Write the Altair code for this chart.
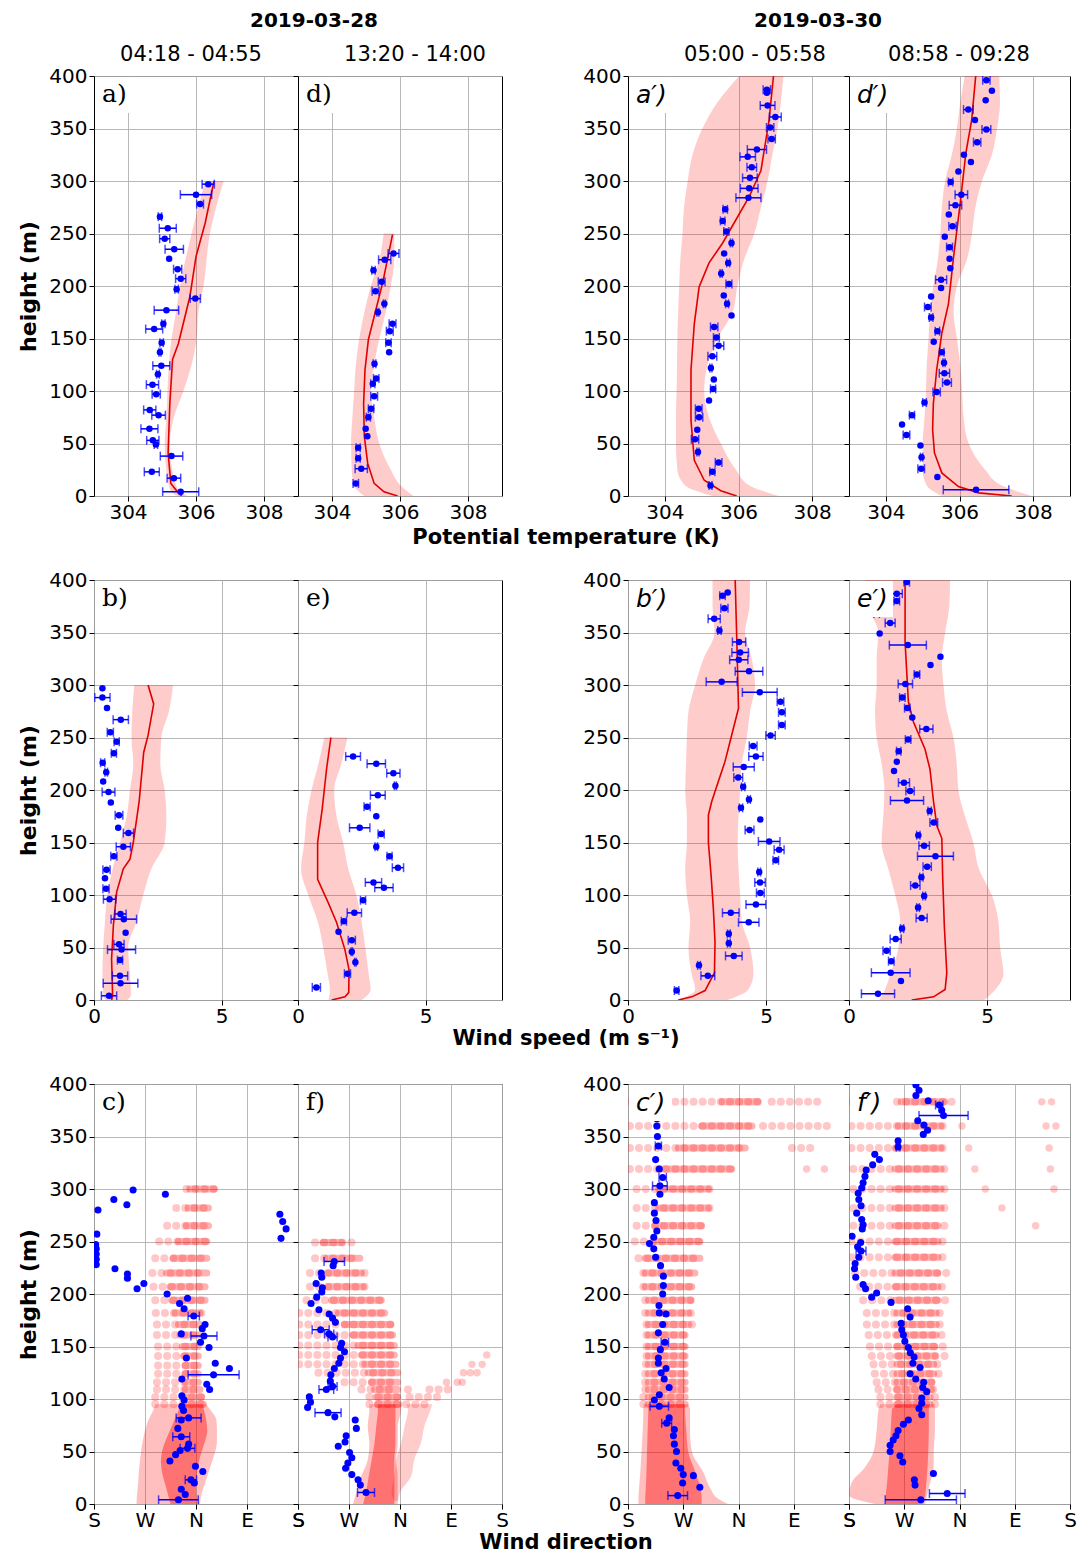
import altair as alt
import pandas as pd

# ---------------- tick values / labels ----------------
Y_TICKS = [0, 50, 100, 150, 200, 250, 300, 350, 400]
T_TICKS = [304, 306, 308]
U_TICKS = [0, 5]
D_TICKS = [180, 270, 360, 450, 540]
D_NAMES = ['S', 'W', 'N', 'E', 'S']

# ---------------- potential temperature ----------------
a_h = [297, 287, 278, 266, 255, 245, 235, 226, 216, 207, 197, 188, 177, 164, 159, 146, 137, 124, 116, 106, 97, 82, 77, 64, 53, 49, 38, 23, 17, 4]
a_v = [306.36, 306.0, 306.12, 304.94, 305.17, 305.08, 305.36, 305.21, 305.46, 305.55, 305.43, 305.98, 305.13, 305.04, 304.77, 304.99, 304.94, 304.98, 304.88, 304.72, 304.83, 304.64, 304.9, 304.63, 304.73, 304.82, 305.28, 304.7, 305.35, 305.55]
a_e = [0.18, 0.46, 0.1, 0.05, 0.25, 0.15, 0.27, 0.0, 0.12, 0.15, 0.05, 0.15, 0.36, 0.05, 0.25, 0.05, 0.03, 0.25, 0.04, 0.18, 0.12, 0.18, 0.2, 0.25, 0.18, 0.05, 0.33, 0.22, 0.2, 0.53]
am_h = [300, 260, 228, 190, 145, 130, 88, 41, 12, 3, 0]
am_v = [306.53, 306.27, 306.0, 305.82, 305.48, 305.31, 305.23, 305.18, 305.26, 305.48, 305.58]
ab_h = [300, 250, 200, 175, 150, 125, 100, 75, 50, 25, 5, 0]
ab_lo = [306.27, 305.87, 305.53, 305.41, 305.28, 305.2, 305.16, 305.13, 305.08, 305.13, 305.25, 305.45]
ab_hi = [306.81, 306.41, 306.22, 306.07, 306.02, 305.87, 305.63, 305.35, 305.23, 305.3, 305.5, 305.75]

d_h = [231, 225, 215, 204, 195, 183, 175, 164, 157, 146, 137, 126, 112, 107, 95, 83, 75, 64, 57, 46, 36, 26, 12]
d_v = [305.81, 305.55, 305.22, 305.46, 305.28, 305.54, 305.35, 305.78, 305.7, 305.66, 305.68, 305.25, 305.3, 305.2, 305.24, 305.15, 305.07, 304.99, 305.04, 304.77, 304.77, 304.86, 304.7]
d_e = [0.16, 0.18, 0.05, 0.1, 0.1, 0.03, 0.03, 0.1, 0.1, 0.08, 0.0, 0.04, 0.08, 0.06, 0.1, 0.08, 0.06, 0.0, 0.0, 0.06, 0.06, 0.18, 0.08]
dm_h = [249, 233, 203, 171, 149, 120, 88, 57, 31, 12, 4, 0]
dm_v = [305.78, 305.68, 305.49, 305.24, 305.07, 304.97, 304.93, 304.95, 305.05, 305.24, 305.53, 305.93]
db_h = [250, 225, 200, 175, 150, 125, 100, 75, 50, 25, 10, 0]
db_lo = [305.52, 305.39, 305.14, 304.95, 304.8, 304.7, 304.65, 304.6, 304.56, 304.58, 304.65, 304.95]
db_hi = [305.83, 305.83, 305.73, 305.58, 305.39, 305.24, 305.14, 305.24, 305.39, 305.73, 306.02, 306.4]

ap_h = [387, 384, 372, 361, 351, 340, 330, 323, 313, 303, 293, 284, 273, 262, 252, 241, 231, 222, 212, 202, 191, 183, 172, 161, 151, 143, 133, 122, 111, 102, 91, 83, 75, 63, 54, 42, 32, 23, 10]
ap_v = [306.77, 306.77, 306.79, 307.0, 306.86, 306.9, 306.5, 306.25, 306.36, 306.31, 306.29, 306.27, 305.64, 305.57, 305.67, 305.81, 305.61, 305.72, 305.53, 305.74, 305.6, 305.69, 305.81, 305.34, 305.4, 305.46, 305.29, 305.25, 305.33, 305.31, 305.2, 304.92, 304.93, 304.88, 304.82, 304.9, 305.46, 305.29, 305.24]
ap_e = [0.1, 0.0, 0.2, 0.16, 0.1, 0.1, 0.26, 0.21, 0.13, 0.2, 0.24, 0.34, 0.06, 0.06, 0.07, 0.03, 0.0, 0.04, 0.03, 0.08, 0.0, 0.04, 0.0, 0.1, 0.08, 0.14, 0.12, 0.03, 0.0, 0.07, 0.0, 0.09, 0.1, 0.0, 0.1, 0.03, 0.09, 0.07, 0.04]
apm_h = [400, 358, 310, 285, 260, 241, 222, 199, 164, 120, 72, 34, 15, 5, 0]
apm_v = [306.95, 306.83, 306.61, 306.29, 305.88, 305.57, 305.2, 304.93, 304.8, 304.71, 304.71, 304.8, 305.07, 305.52, 305.95]
apb_h = [400, 375, 350, 325, 300, 275, 250, 225, 200, 175, 150, 125, 100, 75, 50, 25, 10, 0]
apb_lo = [306.02, 305.43, 305.02, 304.75, 304.62, 304.52, 304.48, 304.42, 304.39, 304.36, 304.34, 304.33, 304.32, 304.3, 304.3, 304.34, 304.55, 305.3]
apb_hi = [307.22, 307.15, 307.06, 306.92, 306.79, 306.61, 306.43, 306.15, 305.97, 305.84, 305.43, 305.16, 305.07, 305.2, 305.52, 305.93, 306.3, 307.1]

dp_h = [396, 386, 377, 368, 358, 349, 337, 325, 318, 309, 299, 287, 277, 268, 257, 247, 237, 226, 217, 206, 198, 190, 180, 170, 157, 147, 137, 127, 117, 108, 99, 89, 77, 68, 58, 48, 37, 26, 18, 6]
dp_v = [306.73, 306.88, 306.71, 306.24, 306.42, 306.73, 306.48, 306.12, 306.31, 305.97, 305.76, 306.05, 305.89, 305.71, 305.81, 305.6, 305.73, 305.73, 305.75, 305.5, 305.5, 305.23, 305.14, 305.23, 305.4, 305.3, 305.52, 305.58, 305.59, 305.66, 305.38, 305.05, 304.71, 304.44, 304.56, 304.94, 304.97, 304.96, 305.4, 306.45]
dp_e = [0.1, 0.0, 0.0, 0.13, 0.0, 0.12, 0.1, 0.0, 0.0, 0.0, 0.06, 0.17, 0.17, 0.0, 0.1, 0.0, 0.08, 0.0, 0.0, 0.15, 0.0, 0.0, 0.09, 0.05, 0.06, 0.0, 0.06, 0.03, 0.14, 0.12, 0.1, 0.05, 0.07, 0.0, 0.09, 0.0, 0.03, 0.09, 0.0, 0.89]
dpm_h = [400, 358, 326, 279, 228, 183, 155, 120, 88, 63, 41, 22, 9, 3, 0]
dpm_v = [306.44, 306.33, 306.17, 306.02, 305.84, 305.7, 305.52, 305.38, 305.29, 305.27, 305.32, 305.52, 305.97, 306.52, 307.42]
dpb_h = [400, 375, 350, 325, 300, 275, 250, 225, 200, 175, 150, 125, 100, 75, 50, 25, 10, 0]
dpb_lo = [306.14, 306.02, 305.93, 305.79, 305.61, 305.52, 305.48, 305.41, 305.29, 305.2, 305.16, 305.11, 305.09, 305.05, 305.0, 305.0, 305.11, 305.52]
dpb_hi = [307.08, 307.1, 307.02, 306.88, 306.61, 306.43, 306.34, 306.2, 305.93, 305.84, 305.93, 306.02, 306.07, 306.11, 306.25, 306.7, 307.15, 307.96]

# ---------------- wind speed ----------------
b_h = [297, 288, 278, 267, 255, 246, 235, 226, 217, 208, 198, 188, 176, 164, 159, 146, 137, 124, 116, 106, 96, 82, 77, 64, 53, 48, 38, 23, 16, 4]
b_v = [0.33, 0.33, 0.51, 1.05, 0.64, 0.89, 0.78, 0.34, 0.48, 0.36, 0.57, 0.66, 0.98, 0.95, 1.35, 1.15, 0.78, 0.49, 0.43, 0.47, 0.61, 1.04, 1.17, 1.24, 0.98, 1.08, 1.02, 1.02, 1.04, 0.59]
b_e = [0.0, 0.3, 0.0, 0.3, 0.12, 0.1, 0.1, 0.08, 0.05, 0.0, 0.25, 0.0, 0.15, 0.0, 0.2, 0.28, 0.12, 0.14, 0.0, 0.12, 0.24, 0.22, 0.5, 0.0, 0.2, 0.55, 0.1, 0.3, 0.68, 0.3]
bm_h = [300, 282, 252, 236, 189, 150, 134, 125, 103, 71, 39, 4, 0]
bm_v = [2.12, 2.34, 2.12, 1.95, 1.77, 1.54, 1.41, 1.15, 0.89, 0.76, 0.69, 0.73, 0.69]
bb_h = [300, 275, 250, 225, 200, 175, 150, 125, 100, 75, 50, 25, 5, 0]
bb_lo = [1.58, 1.5, 1.47, 1.54, 1.41, 1.28, 1.02, 0.73, 0.52, 0.43, 0.36, 0.33, 0.36, 0.45]
bb_hi = [3.1, 2.94, 2.64, 2.6, 2.77, 2.84, 2.77, 2.25, 1.93, 1.67, 1.34, 1.41, 1.45, 1.3]

e_h = [232, 225, 216, 204, 195, 184, 175, 164, 158, 146, 137, 126, 112, 107, 95, 83, 75, 65, 57, 46, 36, 25, 12]
e_v = [2.16, 3.07, 3.74, 3.82, 3.13, 2.71, 3.07, 2.42, 3.26, 3.07, 3.59, 3.92, 2.96, 3.37, 2.55, 2.21, 1.8, 1.59, 2.11, 2.11, 2.25, 1.94, 0.72]
e_e = [0.29, 0.36, 0.26, 0.04, 0.29, 0.12, 0.0, 0.4, 0.12, 0.05, 0.1, 0.22, 0.32, 0.36, 0.1, 0.28, 0.1, 0.0, 0.14, 0.03, 0.03, 0.12, 0.16]
em_h = [250, 220, 182, 150, 115, 93, 74, 48, 29, 7, 3, 0]
em_v = [1.29, 1.12, 0.95, 0.77, 0.77, 1.18, 1.51, 1.84, 2.0, 1.99, 1.84, 1.32]
eb_h = [250, 225, 200, 175, 150, 125, 100, 75, 50, 25, 10, 0]
eb_lo = [1.03, 0.8, 0.53, 0.34, 0.25, 0.12, 0.4, 0.77, 0.99, 1.16, 1.25, 1.2]
eb_hi = [1.94, 1.7, 1.42, 1.51, 1.77, 1.97, 2.29, 2.49, 2.64, 2.77, 2.85, 2.5]

bp_h = [388, 385, 373, 363, 352, 341, 331, 324, 313, 303, 293, 284, 274, 262, 252, 242, 232, 222, 212, 203, 191, 183, 172, 162, 151, 143, 133, 122, 112, 102, 91, 83, 74, 63, 54, 42, 33, 23, 9]
bp_v = [3.61, 3.42, 3.49, 3.12, 3.31, 4.02, 4.06, 4.01, 4.38, 3.39, 4.77, 5.52, 5.57, 5.57, 5.16, 4.53, 4.63, 4.19, 3.99, 4.17, 4.38, 4.09, 4.79, 4.4, 5.11, 5.47, 5.35, 4.75, 4.78, 4.79, 4.63, 3.72, 4.37, 3.65, 3.65, 3.83, 2.57, 2.89, 1.76]
bp_e = [0.0, 0.1, 0.13, 0.22, 0.06, 0.24, 0.3, 0.33, 0.5, 0.56, 0.63, 0.12, 0.12, 0.12, 0.17, 0.14, 0.26, 0.38, 0.16, 0.06, 0.05, 0.06, 0.0, 0.16, 0.39, 0.18, 0.1, 0.05, 0.19, 0.14, 0.36, 0.3, 0.37, 0.05, 0.05, 0.3, 0.05, 0.25, 0.08]
bpm_h = [400, 341, 278, 255, 227, 208, 189, 176, 150, 118, 87, 55, 26, 9, 3, 0]
bpm_v = [3.88, 3.94, 4.0, 3.78, 3.51, 3.27, 3.03, 2.91, 2.91, 3.01, 3.09, 3.15, 3.13, 2.79, 2.31, 1.82]
bpb_h = [400, 375, 350, 325, 300, 275, 250, 225, 200, 175, 150, 125, 100, 75, 50, 25, 10, 0]
bpb_lo = [3.06, 3.06, 3.13, 2.73, 2.43, 2.19, 2.13, 2.1, 2.07, 2.13, 2.13, 2.07, 2.13, 2.25, 2.19, 2.3, 2.43, 1.8]
bpb_hi = [4.42, 4.4, 4.24, 4.48, 4.6, 4.42, 4.3, 4.12, 4.06, 4.0, 3.97, 4.0, 4.06, 4.12, 4.42, 4.54, 4.36, 3.6]

ep_h = [398, 387, 380, 368, 359, 349, 338, 327, 319, 310, 301, 288, 278, 269, 258, 248, 237, 227, 218, 207, 199, 190, 180, 169, 157, 147, 137, 127, 117, 109, 99, 88, 78, 68, 58, 47, 37, 26, 18, 6]
ep_v = [2.09, 1.73, 1.73, 1.0, 1.49, 1.11, 2.13, 3.31, 2.95, 2.46, 2.04, 1.93, 2.11, 2.29, 2.8, 2.14, 1.8, 1.73, 1.63, 1.99, 2.21, 2.1, 2.92, 3.07, 2.51, 2.72, 3.13, 2.83, 2.62, 2.4, 2.72, 2.5, 2.63, 1.92, 1.69, 1.36, 1.53, 1.51, 1.88, 1.05]
ep_e = [0.1, 0.2, 0.1, 0.1, 0.18, 0.0, 0.67, 0.0, 0.0, 0.1, 0.26, 0.1, 0.1, 0.0, 0.24, 0.1, 0.08, 0.0, 0.0, 0.2, 0.15, 0.6, 0.06, 0.14, 0.06, 0.19, 0.65, 0.15, 0.06, 0.17, 0.05, 0.05, 0.2, 0.06, 0.2, 0.13, 0.1, 0.7, 0.0, 0.6]
epm_h = [400, 341, 284, 265, 239, 220, 189, 166, 154, 118, 71, 26, 10, 3, 0]
epm_v = [2.03, 2.03, 2.15, 2.33, 2.75, 2.93, 3.06, 3.18, 3.36, 3.39, 3.45, 3.54, 3.48, 3.06, 2.27]
epb_h = [400, 375, 350, 325, 300, 275, 250, 225, 200, 175, 150, 125, 100, 75, 50, 25, 10, 0]
epb_lo = [0.58, 0.68, 1.06, 1.0, 1.0, 0.94, 1.0, 1.18, 1.28, 1.24, 1.18, 1.42, 1.67, 1.85, 1.79, 1.5, 1.3, 1.1]
epb_hi = [3.66, 3.63, 3.48, 3.36, 3.42, 3.54, 3.78, 3.9, 3.96, 4.2, 4.5, 4.7, 5.17, 5.41, 5.47, 5.59, 5.3, 4.9]

# ---------------- wind direction (deg, S=180 W=270 N=360 E=450 S=540) ----------------
c_h = [299, 295, 290, 285, 280, 276, 269, 262, 253, 257, 247, 243, 238, 233, 228, 224, 219, 215, 205, 210, 200, 196, 191, 186, 179, 171, 167, 162, 160, 154, 149, 139, 134, 129, 123, 119, 114, 109, 103, 99, 93, 89, 82, 80, 72, 64, 57, 53, 51, 47, 41, 36, 31, 23, 20, 14, 9, 4]
c_v = [249, 306, 215, 238, 187, 508, 513, 519, 510, 185, 183, 184, 184, 184, 184, 217, 239, 239, 256, 268, 309, 345, 331, 339, 356, 376, 371, 334, 374, 368, 383, 343, 394, 419, 391, 335, 379, 384, 335, 339, 335, 338, 347, 334, 328, 334, 347, 345, 332, 324, 314, 359, 372, 351, 357, 334, 341, 329]
c_e = [0, 0, 0, 0, 0, 0, 0, 0, 0, 0, 0, 0, 0, 0, 0, 0, 0, 0, 0, 0, 0, 0, 0, 0, 10, 0, 0, 0, 23, 0, 0, 0, 0, 0, 45, 0, 0, 0, 0, 0, 0, 0, 22, 0, 0, 15, 0, 13, 0, 0, 0, 0, 0, 10, 0, 0, 0, 35]
c_lv_h = [300, 282, 265, 250, 234, 220, 207, 194, 182, 171, 161, 150, 141, 132, 124, 116, 109, 102, 95]
c_lv_lo = [343, 325, 309, 295, 288, 283, 285, 288, 289, 291, 291, 293, 293, 293, 293, 291, 291, 288, 288]
c_lv_hi = [392, 382, 382, 380, 379, 379, 379, 376, 373, 370, 367, 367, 367, 367, 367, 367, 370, 373, 376]
c_cr_lo = [349, 346, 343, 329, 320, 308, 314, 317, 323, 329, 332, 336, 338, 341, 341, 341, 341, 341, 341]
c_cr_hi = [392, 382, 382, 379, 379, 379, 376, 376, 367, 367, 364, 364, 364, 364, 364, 364, 367, 370, 373]
c_dz_h = [95, 90, 80, 70, 60, 50, 40, 30, 20, 10, 0]
c_dz_lo = [288, 285, 276, 270, 266, 263, 261, 259, 258, 256, 255]
c_dz_hi = [378, 385, 396, 397, 397, 394, 388, 382, 376, 370, 367]
c_dc_lo = [335, 330, 322, 314, 306, 300, 298, 300, 305, 310, 315]
c_dc_hi = [372, 374, 378, 380, 376, 370, 365, 362, 360, 360, 362]

f_h = [231, 227, 220, 216, 210, 206, 202, 197, 191, 185, 181, 177, 173, 166, 162, 159, 153, 149, 145, 139, 134, 129, 123, 117, 112, 109, 102, 97, 92, 87, 83, 80, 72, 65, 59, 55, 49, 44, 39, 34, 28, 23, 18, 11]
f_v = [244, 242, 221, 222, 212, 223, 222, 213, 203, 217, 235, 241, 246, 220, 235, 241, 257, 255, 262, 255, 252, 244, 238, 237, 241, 230, 200, 202, 197, 233, 245, 281, 283, 265, 263, 251, 271, 275, 268, 264, 275, 286, 290, 300]
f_e = [18, 0, 0, 0, 0, 0, 0, 0, 0, 0, 0, 0, 0, 15, 8, 8, 0, 0, 0, 0, 0, 0, 0, 0, 8, 13, 0, 0, 0, 23, 0, 0, 0, 0, 0, 0, 0, 0, 0, 0, 0, 0, 0, 15]
f_lv_h = [249, 234, 220, 207, 194, 182, 171, 161, 151, 142, 133, 125, 116, 109, 109, 109, 102, 102, 95, 95]
f_lv_lo = [210, 210, 201, 201, 195, 182, 182, 182, 182, 182, 182, 216, 262, 292, 374, 412, 306, 377, 306, 371]
f_lv_hi = [289, 289, 298, 309, 330, 336, 344, 347, 350, 350, 353, 356, 356, 356, 385, 453, 356, 432, 362, 417]
f_cr_h = [249, 234, 220, 207, 194, 182, 171, 161, 151, 142, 133, 125, 116, 109, 102, 95]
f_cr_lo = [224, 230, 233, 233, 239, 251, 262, 277, 286, 292, 298, 304, 310, 315, 318, 320]
f_cr_hi = [257, 289, 292, 295, 327, 333, 344, 347, 350, 350, 353, 356, 356, 356, 356, 358]
f_out_h = [142, 133, 133, 125, 125, 125, 116, 116, 116]
f_out_v = [513, 487, 505, 472, 484, 496, 442, 461, 470]
f_dz_h = [95, 90, 74, 58, 42, 27, 11, 0]
f_dz_lo = [306, 306, 303, 306, 303, 292, 283, 277]
f_dz_hi = [362, 362, 356, 356, 353, 356, 356, 356]
f_dc_lo = [321, 321, 318, 315, 310, 305, 300, 295]
f_dc_hi = [352, 352, 352, 352, 350, 350, 350, 350]
f_f2_h = [95, 90, 74, 58, 42, 27, 11, 3]
f_f2_lo = [371, 374, 368, 362, 353, 350, 345, 350]
f_f2_hi = [417, 414, 403, 397, 385, 380, 360, 356]

cp_h = [367, 360, 350, 341, 328, 319, 311, 303, 295, 287, 277, 270, 260, 254, 248, 243, 235, 227, 217, 208, 200, 189, 182, 181, 171, 163, 154, 147, 139, 134, 129, 125, 119, 111, 104, 99, 93, 82, 77, 71, 65, 57, 50, 39, 34, 28, 27, 20, 16, 8]
cp_v = [227, 227, 228, 229.5, 225, 231, 236.5, 232, 232, 223, 223, 225.6, 227, 222, 215, 222, 225, 233, 237.6, 237.6, 236.5, 230.5, 231, 242, 236.5, 229.5, 240, 232.7, 229.5, 229.5, 242, 234, 239, 247, 231, 223, 231, 247, 243, 255.5, 254, 255.5, 259, 258, 266, 270, 286.5, 269, 297, 261]
cp_e = [0, 0, 0, 5, 0, 0, 6, 12, 0, 0, 0, 0, 0, 0, 0, 0, 0, 0, 0, 0, 0, 0, 0, 0, 0, 0, 6, 0, 0, 0, 0, 0, 0, 0, 0, 0, 15, 0, 8, 0, 0, 0, 0, 0, 0, 0, 0, 0, 0, 16]
cp_lv_h = [383, 383, 360, 360, 339, 339, 319, 300, 282, 265, 250, 234, 220, 207, 194, 182, 171, 161, 150, 141, 133, 124, 116, 109, 102, 95]
cp_lv_lo = [183, 414, 183, 400, 183, 447, 183, 194, 194, 194, 191, 197, 205, 205, 208, 208, 210, 210, 210, 210, 209, 208, 208, 208, 205, 205]
cp_lv_hi = [392, 501, 382, 517, 371, 485, 349, 327, 316, 305, 297, 297, 289, 289, 292, 289, 295, 278, 273, 273, 273, 273, 273, 276, 276, 278]
cp_cr_h = [383, 360, 339, 319, 300, 282, 265, 250, 234, 220, 207, 194, 182, 171, 161, 150, 141, 133, 124, 116, 109, 102, 95]
cp_cr_lo = [333, 300, 262, 230, 230, 230, 224, 224, 208, 208, 208, 213, 213, 213, 213, 213, 213, 213, 213, 213, 213, 213, 213]
cp_cr_hi = [392, 382, 371, 349, 311, 311, 300, 297, 297, 289, 284, 282, 279, 279, 273, 273, 273, 273, 273, 273, 273, 273, 273]
cp_out_h = [319, 319]
cp_out_v = [471, 500]
cp_dz_h = [95, 90, 70, 50, 30, 15, 5, 0]
cp_dz_lo = [205, 205, 204, 202, 200, 198, 197, 197]
cp_dz_hi = [278, 281, 281, 284, 303, 314, 327, 343]
cp_dc_lo = [213, 213, 212, 211, 210, 209, 208, 208]
cp_dc_hi = [273, 273, 275, 278, 290, 298, 300, 300]

fp_h = [399, 394, 389, 384, 380, 375, 370, 365, 361, 356, 352, 346, 340, 333, 328, 323, 318, 312, 306, 301, 296, 290, 284, 277, 271, 266, 262, 255, 249, 245, 241, 235, 229, 224, 216, 209, 205, 197, 201, 192, 186, 178, 172, 166, 161, 155, 149, 144, 140, 134, 130, 124, 119, 116, 111, 107, 101, 96, 91, 85, 80, 76, 70, 65, 61, 56, 50, 46, 40, 29, 23, 18, 10, 4]
fp_v = [289, 294, 289, 309, 327, 331, 334, 292, 302, 308, 301, 260, 260, 222, 229.5, 218.6, 208, 206, 203, 200.7, 195, 196, 199.6, 192.5, 200.7, 203, 201.6, 185, 199, 194, 199.6, 196, 190, 189, 191, 203, 207, 217, 225, 248.5, 275.6, 279.5, 265, 266, 268.6, 271, 276.7, 280, 286, 284, 295.8, 279.5, 288.7, 301.7, 300, 306.6, 298.5, 298.5, 294, 298.5, 276.7, 268.6, 260, 256.6, 252, 247, 247, 263, 267.5, 317.5, 286.5, 287.6, 340, 297]
fp_e = [0, 0, 0, 0, 6, 0, 40, 0, 0, 0, 0, 0, 3, 0, 0, 0, 0, 0, 0, 0, 0, 0, 0, 0, 0, 0, 0, 0, 0, 0, 8, 0, 0, 0, 0, 0, 0, 0, 0, 0, 0, 0, 0, 0, 0, 0, 0, 0, 0, 0, 0, 0, 0, 0, 0, 0, 0, 0, 0, 0, 0, 0, 0, 0, 0, 0, 0, 0, 0, 0, 0, 0, 29, 58]
fp_lv_h = [383, 360, 339, 319, 300, 282, 265, 250, 235, 220, 207, 194, 182, 171, 161, 150, 141, 133, 124, 116, 109, 102, 95]
fp_lv_lo = [184, 184, 184, 187, 187, 187, 187, 184, 184, 190, 198, 203, 209, 209, 212, 214, 217, 220, 222, 225, 228, 231, 231]
fp_lv_hi = [350, 345, 345, 345, 345, 345, 345, 345, 345, 347, 345, 345, 342, 339, 339, 337, 337, 334, 331, 328, 323, 323, 320]
fp_cr_lo = [265, 260, 255, 255, 255, 255, 255, 255, 255, 255, 255, 255, 258, 258, 258, 258, 258, 258, 258, 258, 258, 258, 258]
fp_cr_hi = [336, 330, 330, 330, 330, 330, 325, 325, 325, 325, 325, 325, 322, 322, 322, 320, 320, 318, 318, 315, 315, 312, 312]
fp_out_h = [383, 383, 360, 360, 360, 339, 339, 319, 319, 300, 300, 282, 265]
fp_out_v = [494, 510, 364, 501, 517, 375, 506, 385, 508, 402, 514, 429, 484]
fp_dz_h = [95, 90, 70, 50, 35, 20, 8, 0]
fp_dz_lo = [231, 228, 225, 220, 206, 184, 180, 222]
fp_dz_hi = [320, 320, 320, 318, 318, 312, 307, 304]
fp_dc_lo = [258, 250, 248, 246, 244, 242, 240, 240]
fp_dc_hi = [312, 310, 310, 309, 308, 306, 304, 300]

# ---------------- styling ----------------
H = 420
WL, WR = 204, 221
GAP = 126
BLUE = '#0000ff'
RED = '#ff0000'
LINE_RED = '#e00000'
FONT = 'DejaVu Sans'
GRID = '#b0b0b0'


def dir_label_expr():
    expr = "''"
    for v, n in zip(D_TICKS, D_NAMES):
        expr = f"datum.value == {v} ? '{n}' : ({expr})"
    return expr


def txt(s, x, y, size, weight='normal', font=FONT, style='normal', align='center'):
    return alt.Chart(pd.DataFrame({'t': [s]})).mark_text(
        font=font, fontSize=size, fontWeight=weight, fontStyle=style, align=align,
        baseline='middle', color='black'
    ).encode(text='t:N', x=alt.value(x), y=alt.value(y))


def panel(kind, width, col, label, prime, ph, pv, pe,
          model=None, band=None, lv=None, cr=None, dz=None, dc=None, f2=None, out=None, texts=()):
    if kind == 'T':
        dom, vals = [303, 309], T_TICKS
    elif kind == 'U':
        dom, vals = [0, 8], U_TICKS
    else:
        dom, vals = [180, 540], D_TICKS
    ax = dict(values=vals, title=None, grid=True, gridColor=GRID, gridWidth=0.9, domain=False,
              ticks=True, tickColor='black', tickSize=5, tickWidth=1, labelFont=FONT,
              labelFontSize=20, labelColor='black', labelPadding=1, labelOverlap=False,
              labelFlush=False)
    if kind == 'D':
        ax['labelExpr'] = dir_label_expr()
    xa = alt.Axis(**ax)
    ya_kw = dict(values=Y_TICKS, grid=True, gridColor=GRID, gridWidth=0.9, domain=False,
                 ticks=True, tickColor='black', tickSize=5, tickWidth=1, labelFont=FONT,
                 labelFontSize=20, labelColor='black', labelPadding=2, labelOverlap=False,
                 labelFlush=False, labels=(col in (0, 2)))
    if col == 0:
        ya_kw.update(title='height (m)', titleFont=FONT, titleFontSize=22, titleFontWeight='bold',
                     titleColor='black', titlePadding=8)
    else:
        ya_kw.update(title=None)
    ya = alt.Axis(**ya_kw)
    xs = alt.Scale(domain=dom, nice=False, zero=False)
    ys = alt.Scale(domain=[0, 400], nice=False, zero=False)

    def X(f):
        return alt.X(f + ':Q', scale=xs, axis=xa)

    Y = alt.Y('h:Q', scale=ys, axis=ya)
    layers = []

    if band is not None:
        df = pd.DataFrame({'h': band[0], 'lo': band[1], 'hi': band[2]})
        layers.append(alt.Chart(df).mark_area(orient='horizontal', color=RED, opacity=0.2,
                                              interpolate='monotone', clip=True)
                      .encode(x=X('lo'), x2='hi:Q', y=Y))
    if dz is not None:
        df = pd.DataFrame({'h': dz[0], 'lo': dz[1], 'hi': dz[2]})
        layers.append(alt.Chart(df).mark_area(orient='horizontal', color=RED, opacity=0.25,
                                              interpolate='monotone', clip=True)
                      .encode(x=X('lo'), x2='hi:Q', y=Y))
    if f2 is not None:
        df = pd.DataFrame({'h': f2[0], 'lo': f2[1], 'hi': f2[2]})
        layers.append(alt.Chart(df).mark_area(orient='horizontal', color=RED, opacity=0.2,
                                              interpolate='monotone', clip=True)
                      .encode(x=X('lo'), x2='hi:Q', y=Y))
    if dc is not None:
        df = pd.DataFrame({'h': dc[0], 'lo': dc[1], 'hi': dc[2]})
        layers.append(alt.Chart(df).mark_area(orient='horizontal', color=RED, opacity=0.4,
                                              interpolate='monotone', clip=True)
                      .encode(x=X('lo'), x2='hi:Q', y=Y))
    if lv is not None:
        df = pd.DataFrame({'h': lv[0], 'lo': lv[1], 'hi': lv[2]})
        layers.append(alt.Chart(df).mark_rule(color=RED, strokeWidth=8, strokeCap='round',
                                              strokeDash=[0.1, 9], opacity=0.22, clip=True)
                      .encode(x=X('lo'), x2='hi:Q', y=Y))
    if cr is not None:
        df = pd.DataFrame({'h': cr[0], 'lo': cr[1], 'hi': cr[2]})
        layers.append(alt.Chart(df).mark_rule(color=RED, strokeWidth=7, strokeCap='round',
                                              opacity=0.3, clip=True)
                      .encode(x=X('lo'), x2='hi:Q', y=Y))
    if out is not None:
        df = pd.DataFrame({'h': out[0], 'x': out[1]})
        layers.append(alt.Chart(df).mark_circle(color=RED, size=55, opacity=0.22, clip=True)
                      .encode(x=X('x'), y=Y))
    if model is not None:
        df = pd.DataFrame({'h': model[0], 'x': model[1]})
        layers.append(alt.Chart(df).mark_line(color=LINE_RED, strokeWidth=1.6, clip=True)
                      .encode(x=X('x'), y=Y, order='h:Q'))

    pdf = pd.DataFrame({'h': ph, 'x': pv, 'e': pe})
    edf = pdf[pdf['e'] > 0].copy()
    edf['lo'] = edf['x'] - edf['e']
    edf['hi'] = edf['x'] + edf['e']
    layers.append(alt.Chart(edf).mark_rule(color=BLUE, strokeWidth=1.5, clip=True)
                  .encode(x=X('lo'), x2='hi:Q', y=Y))
    layers.append(alt.Chart(edf).mark_tick(color=BLUE, orient='vertical', size=9, thickness=1.5, clip=True)
                  .encode(x=X('lo'), y=Y))
    layers.append(alt.Chart(edf).mark_tick(color=BLUE, orient='vertical', size=9, thickness=1.5, clip=True)
                  .encode(x=X('hi'), y=Y))
    psize = 50 if kind == 'D' else 42
    layers.append(alt.Chart(pdf).mark_circle(color=BLUE, size=psize, opacity=1, clip=True)
                  .encode(x=X('x'), y=Y))

    # panel label with white box
    layers.append(alt.Chart(pd.DataFrame({'a': [0]})).mark_rect(color='white')
                  .encode(x=alt.value(1), x2=alt.value(44), y=alt.value(1), y2=alt.value(37)))
    if prime:
        layers.append(txt(label, 8, 19, 25, font=FONT, style='italic', align='left'))
    else:
        layers.append(txt(label, 8, 18, 25, font='DejaVu Serif', align='left'))
    for t in texts:
        layers.append(txt(*t))
    return alt.layer(*layers).properties(width=width, height=H)


def spacer():
    return alt.Chart(pd.DataFrame({'a': [0]})).mark_point(opacity=0).encode(
        x=alt.value(0), y=alt.value(0)
    ).properties(width=GAP, height=H, view=alt.ViewBackground(stroke='transparent'))


# ---------------- panels ----------------
pa = panel('T', WL, 0, 'a)', False, a_h, a_v, a_e, model=(am_h, am_v), band=(ab_h, ab_lo, ab_hi),
           texts=[('2019-03-28', 220, -55, 20, 'bold'), ('04:18 - 04:55', 97, -21, 21)])
pd_ = panel('T', WL, 1, 'd)', False, d_h, d_v, d_e, model=(dm_h, dm_v), band=(db_h, db_lo, db_hi),
            texts=[('13:20 - 14:00', 117, -21, 21), ('Potential temperature (K)', 268, 42 + H, 21, 'bold')])
pap = panel('T', WR, 2, 'a′)', True, ap_h, ap_v, ap_e, model=(apm_h, apm_v), band=(apb_h, apb_lo, apb_hi),
            texts=[('2019-03-30', 190, -55, 20, 'bold'), ('05:00 - 05:58', 127, -21, 21)])
pdp = panel('T', WR, 3, 'd′)', True, dp_h, dp_v, dp_e, model=(dpm_h, dpm_v), band=(dpb_h, dpb_lo, dpb_hi),
            texts=[('08:58 - 09:28', 110, -21, 21)])

pb = panel('U', WL, 0, 'b)', False, b_h, b_v, b_e, model=(bm_h, bm_v), band=(bb_h, bb_lo, bb_hi))
pe = panel('U', WL, 1, 'e)', False, e_h, e_v, e_e, model=(em_h, em_v), band=(eb_h, eb_lo, eb_hi),
           texts=[('Wind speed (m s⁻¹)', 268, 39 + H, 21, 'bold')])
pbp = panel('U', WR, 2, 'b′)', True, bp_h, bp_v, bp_e, model=(bpm_h, bpm_v), band=(bpb_h, bpb_lo, bpb_hi))
pep = panel('U', WR, 3, 'e′)', True, ep_h, ep_v, ep_e, model=(epm_h, epm_v), band=(epb_h, epb_lo, epb_hi))

pc = panel('D', WL, 0, 'c)', False, c_h, c_v, c_e,
           lv=(c_lv_h, c_lv_lo, c_lv_hi), cr=(c_lv_h, c_cr_lo, c_cr_hi),
           dz=(c_dz_h, c_dz_lo, c_dz_hi), dc=(c_dz_h, c_dc_lo, c_dc_hi))
pf = panel('D', WL, 1, 'f)', False, f_h, f_v, f_e,
           lv=(f_lv_h, f_lv_lo, f_lv_hi), cr=(f_cr_h, f_cr_lo, f_cr_hi),
           dz=(f_dz_h, f_dz_lo, f_dz_hi), dc=(f_dz_h, f_dc_lo, f_dc_hi),
           f2=(f_f2_h, f_f2_lo, f_f2_hi), out=(f_out_h, f_out_v),
           texts=[('Wind direction', 268, 39 + H, 21, 'bold')])
pcp = panel('D', WR, 2, 'c′)', True, cp_h, cp_v, cp_e,
            lv=(cp_lv_h, cp_lv_lo, cp_lv_hi), cr=(cp_cr_h, cp_cr_lo, cp_cr_hi),
            dz=(cp_dz_h, cp_dz_lo, cp_dz_hi), dc=(cp_dz_h, cp_dc_lo, cp_dc_hi),
            out=(cp_out_h, cp_out_v))
pfp = panel('D', WR, 3, 'f′)', True, fp_h, fp_v, fp_e,
            lv=(fp_lv_h, fp_lv_lo, fp_lv_hi), cr=(fp_lv_h, fp_cr_lo, fp_cr_hi),
            dz=(fp_dz_h, fp_dz_lo, fp_dz_hi), dc=(fp_dz_h, fp_dc_lo, fp_dc_hi),
            out=(fp_out_h, fp_out_v))

cells = [pa, pd_, spacer(), pap, pdp,
         pb, pe, spacer(), pbp, pep,
         pc, pf, spacer(), pcp, pfp]

chart = alt.concat(
    *cells, columns=5, spacing={'row': 84, 'column': 0}, bounds='flush'
).properties(
    padding={'left': 9, 'top': 2, 'right': 5, 'bottom': 5}
).configure_view(stroke='black', strokeWidth=1)

chart.save('out.html', embed_options={'renderer': 'svg', 'actions': False})
